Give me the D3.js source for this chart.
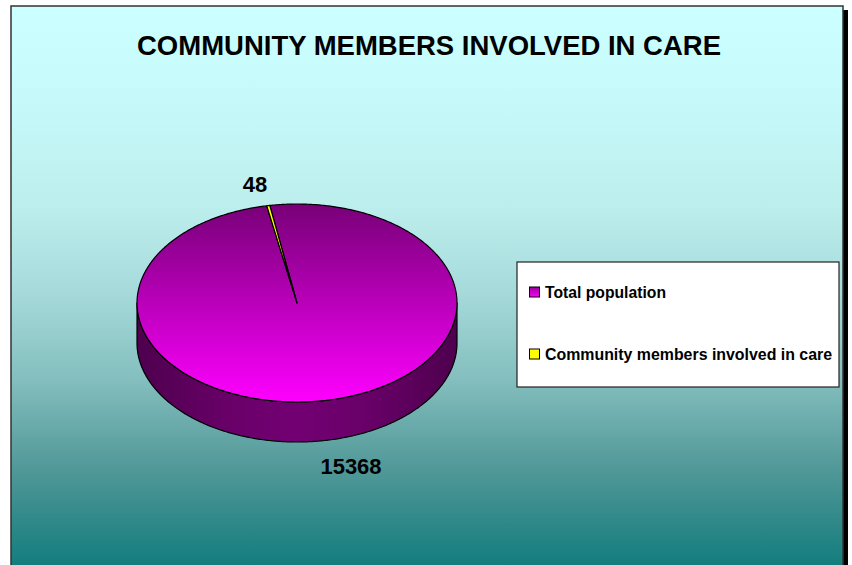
<!DOCTYPE html>
<html><head><meta charset="utf-8">
<script src="https://cdnjs.cloudflare.com/ajax/libs/d3/7.8.5/d3.min.js"></script>
<style>html,body{margin:0;padding:0;background:#fff;}svg{display:block;}</style>
</head><body>
<script>
const title = "COMMUNITY MEMBERS INVOLVED IN CARE";
const categories = ["Total population", "Community members involved in care"];
const values = [15368, 48];
const colors = ["#ff00ff", "#ffff00"];

const W = 852, H = 565;
const svg = d3.select("body").append("svg").attr("width", W).attr("height", H);
const defs = svg.append("defs");

// background gradient
const bg = defs.append("linearGradient").attr("id","bg").attr("x1",0).attr("y1",0).attr("x2",0).attr("y2",1);
[[0,"#ccffff"],[0.12,"#c8fcfc"],[0.35,"#bdeeee"],[0.5,"#a6dada"],[0.65,"#84bebe"],[0.8,"#539999"],[0.9,"#2f8888"],[1,"#087a7a"]]
  .forEach(([o,c])=>bg.append("stop").attr("offset",o).attr("stop-color",c));

// drop shadow on right
svg.append("rect").attr("x",16).attr("y",10).attr("width",832).attr("height",H).attr("fill","#000");
svg.append("rect").attr("x",11).attr("y",6).attr("width",832).attr("height",H+10)
  .attr("fill","url(#bg)").attr("stroke","#333").attr("stroke-width",1.5);

svg.append("text").attr("x",429).attr("y",55).attr("text-anchor","middle")
  .attr("font-family","Liberation Sans, Arial, sans-serif").attr("font-weight","bold")
  .attr("font-size",28.5).attr("textLength",584).attr("lengthAdjust","spacingAndGlyphs")
  .text(title);

// 3D pie
const cx = 297, cy = 303, rx = 160, ry = 99, depth = 40;
const startDeg = -9.8;
const pie = d3.pie().sort(null).value(d=>d)
  .startAngle(startDeg*Math.PI/180).endAngle(startDeg*Math.PI/180 + 2*Math.PI);
const arcs = pie(values);

function pt(a, dy){ return [cx + rx*Math.sin(a), cy - ry*Math.cos(a) + (dy||0)]; }
function arcPts(a0, a1, dy){
  const n = Math.max(2, Math.ceil(Math.abs(a1-a0)/0.01));
  const pts = [];
  for(let i=0;i<=n;i++){ pts.push(pt(a0+(a1-a0)*i/n, dy)); }
  return pts;
}
const line = d3.line();

const topG = defs.append("linearGradient").attr("id","topg").attr("gradientUnits","userSpaceOnUse")
  .attr("x1",0).attr("y1",cy-ry).attr("x2",0).attr("y2",cy+ry);
topG.append("stop").attr("offset",0).attr("stop-color","#780078");
topG.append("stop").attr("offset",0.45).attr("stop-color","#b300b3");
topG.append("stop").attr("offset",1).attr("stop-color","#ff00ff");
const sideG = defs.append("linearGradient").attr("id","sideg").attr("gradientUnits","userSpaceOnUse")
  .attr("x1",cx-rx).attr("y1",0).attr("x2",cx+rx).attr("y2",0);
sideG.append("stop").attr("offset",0).attr("stop-color","#4e004e");
sideG.append("stop").attr("offset",0.3).attr("stop-color","#6a006a");
sideG.append("stop").attr("offset",0.5).attr("stop-color","#730073");
sideG.append("stop").attr("offset",0.7).attr("stop-color","#6a006a");
sideG.append("stop").attr("offset",1).attr("stop-color","#4e004e");

const fills = ["url(#topg)", colors[1]];
const sideFills = ["url(#sideg)", "#808000"];

// sides (front half)
arcs.forEach((d,i)=>{
  for(let k=-1;k<=1;k++){
    const lo = Math.max(d.startAngle, Math.PI/2 + k*2*Math.PI);
    const hi = Math.min(d.endAngle, 3*Math.PI/2 + k*2*Math.PI);
    if(hi > lo){
      const topPts = arcPts(lo, hi, 0);
      const botPts = arcPts(hi, lo, depth);
      svg.append("path").attr("d", line(topPts.concat(botPts)) + "Z")
        .attr("fill", sideFills[i]).attr("stroke","#000").attr("stroke-width",1.2)
        .attr("stroke-linejoin","round");
    }
  }
});

// top faces
arcs.forEach((d,i)=>{
  const pts = [[cx,cy]].concat(arcPts(d.startAngle, d.endAngle, 0));
  svg.append("path").attr("d", line(pts)+"Z")
    .attr("fill", fills[i]).attr("stroke","#000").attr("stroke-width",1.2)
    .attr("stroke-linejoin","round");
});

// data labels
const labelFont = "Liberation Sans, Arial, sans-serif";
svg.append("text").attr("x",255).attr("y",192).attr("text-anchor","middle")
  .attr("font-family",labelFont).attr("font-weight","bold").attr("font-size",22)
  .text(values[1]);
svg.append("text").attr("x",351).attr("y",474).attr("text-anchor","middle")
  .attr("font-family",labelFont).attr("font-weight","bold").attr("font-size",22)
  .text(values[0]);

// legend
const lgm = defs.append("linearGradient").attr("id","lgm").attr("x1",0).attr("y1",0).attr("x2",0).attr("y2",1);
lgm.append("stop").attr("offset",0).attr("stop-color","#990099");
lgm.append("stop").attr("offset",1).attr("stop-color","#ff00ff");
const lg = svg.append("g");
lg.append("rect").attr("x",517).attr("y",262).attr("width",322).attr("height",125)
  .attr("fill","#fff").attr("stroke","#222").attr("stroke-width",1.2);
const legY = [292, 354];
categories.forEach((c,i)=>{
  lg.append("rect").attr("x",529.5).attr("y",legY[i]-5).attr("width",10).attr("height",10)
    .attr("fill", i===0 ? "url(#lgm)" : colors[1]).attr("stroke","#000").attr("stroke-width",1);
  lg.append("text").attr("x",545).attr("y",legY[i]+6)
    .attr("font-family",labelFont).attr("font-weight","bold").attr("font-size",16)
    .attr("textLength", i===0 ? 121 : 287).attr("lengthAdjust","spacingAndGlyphs")
    .text(c);
});
</script>
</body></html>
